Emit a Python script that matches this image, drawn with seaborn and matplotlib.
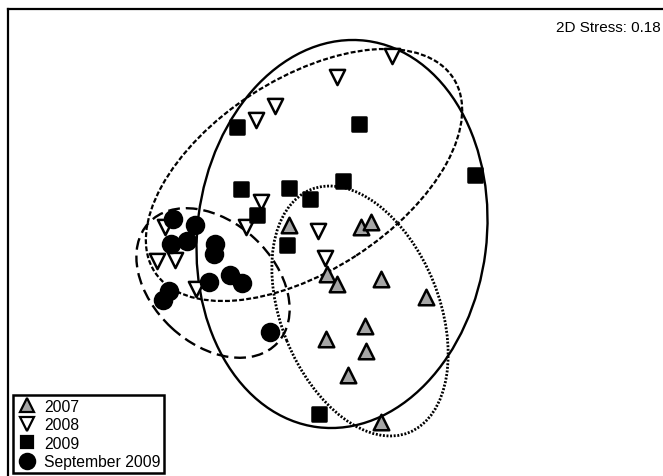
import numpy as np
import pandas as pd
import matplotlib
matplotlib.use("Agg")
import matplotlib.pyplot as plt
import seaborn as sns
from matplotlib.patches import Ellipse
from matplotlib.lines import Line2D

# NMDS ordination scores
x_2007 = [289, 361, 371, 327, 337, 381, 426, 365, 326, 366, 348, 381]
y_2007 = [251, 249, 254, 202, 192, 197, 179, 150, 137, 125, 101, 54]

x_2008 = [392, 337, 275, 256, 261, 246, 318, 325, 165, 157, 175, 196]
y_2008 = [420, 399, 370, 356, 274, 249, 245, 218, 249, 215, 216, 187]

x_2009 = [237, 359, 475, 241, 289, 343, 310, 257, 287, 319]
y_2009 = [349, 352, 301, 287, 288, 295, 277, 261, 231, 62]

x_sep = [173, 195, 171, 187, 215, 214, 209, 230, 242, 169, 163, 270]
y_sep = [257, 251, 232, 235, 232, 222, 194, 201, 193, 185, 176, 144]

groups = ["2007", "2008", "2009", "September 2009"]

# group ellipses: centre x, centre y, half width, half height, angle
ell_x = [360, 304, 342, 213]
ell_y = [165, 301, 242, 193]
ell_a = [131, 178, 144.6, 88]
ell_b = [79, 96, 194.7, 61]
ell_angle = [-68, 33, -7.2, -43]

df = pd.concat([
    pd.DataFrame({"mds1": x_2007, "mds2": y_2007, "group": "2007"}),
    pd.DataFrame({"mds1": x_2008, "mds2": y_2008, "group": "2008"}),
    pd.DataFrame({"mds1": x_2009, "mds2": y_2009, "group": "2009"}),
    pd.DataFrame({"mds1": x_sep, "mds2": y_sep, "group": "September 2009"}),
])

plt.rcParams["font.family"] = ["Liberation Sans", "DejaVu Sans"]

fig = plt.figure(figsize=(6.63, 4.77), dpi=100)
ax = fig.add_axes([8 / 663, -10 / 477, 665 / 663, 1.0])

styles = {
    "2007": dict(marker="^", color="#a6a6a6", s=125),
    "2008": dict(marker="v", color="white", s=120),
    "2009": dict(marker="s", color="black", s=95),
    "September 2009": dict(marker="o", color="black", s=150),
}
line_styles = [(0, (0.7, 0.6)), (0, (2.2, 1.0)), "solid", (0, (5, 2.5))]
ell_lw = [2.0, 1.6, 1.7, 1.7]

# ellipses first so markers sit on top
for i, g in enumerate(groups):
    e = Ellipse((ell_x[i], ell_y[i]), 2 * ell_a[i], 2 * ell_b[i], angle=ell_angle[i],
                fill=False, edgecolor="black", linewidth=ell_lw[i],
                linestyle=line_styles[i], zorder=2)
    ax.add_patch(e)

for g in groups:
    st = styles[g]
    sns.scatterplot(data=df[df["group"] == g], x="mds1", y="mds2", ax=ax,
                    marker=st["marker"], color=st["color"], s=st["s"],
                    edgecolor="black", linewidth=1.8, zorder=3, legend=False)

ax.set_xlim(8, 673)
ax.set_ylim(-10, 467)
ax.set_xticks([])
ax.set_yticks([])
ax.set_xlabel("")
ax.set_ylabel("")
for sp in ax.spines.values():
    sp.set_linewidth(1.6)
    sp.set_color("black")

ax.text(0.982, 0.963, "2D Stress: 0.18", transform=ax.transAxes,
        ha="right", va="center", fontsize=11)

leg_size = {"2007": 10, "2008": 9.5, "2009": 9, "September 2009": 11}
handles = []
for g in groups:
    st = styles[g]
    handles.append(Line2D([], [], linestyle="none", marker=st["marker"],
                          markerfacecolor=st["color"], markeredgecolor="black",
                          markeredgewidth=1.6, markersize=leg_size[g]))
leg = ax.legend(handles, groups, loc="lower left", bbox_to_anchor=(0.008, 0.027),
                borderaxespad=0, fontsize=11.3, frameon=True, fancybox=False,
                framealpha=1, edgecolor="black", handlelength=1.2,
                handletextpad=0.5, labelspacing=0.22, borderpad=0.25)
leg.get_frame().set_linewidth(1.8)

fig.savefig("out.png", dpi=100)
